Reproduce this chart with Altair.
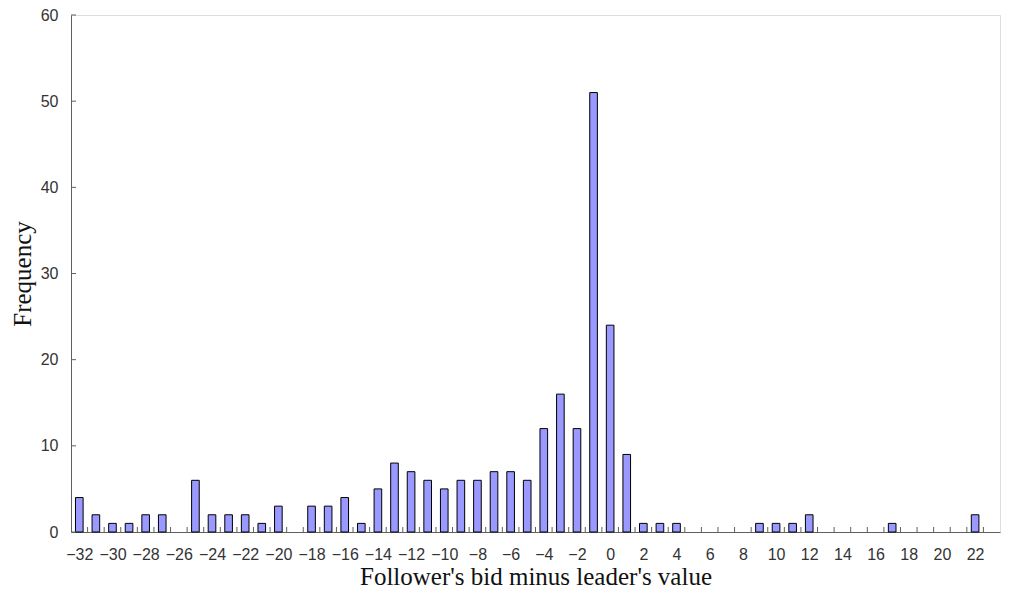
import altair as alt
import pandas as pd

# Data
diffs = list(range(-32, 23))
freqs = [4, 2, 1, 1, 2, 2, 0, 6, 2, 2, 2, 1, 3, 0, 3, 3, 4, 1,
         5, 8, 7, 6, 5, 6, 6, 7, 7, 6, 12, 16, 12, 51, 24, 9, 1, 1,
         1, 0, 0, 0, 0, 1, 1, 1, 2, 0, 0, 0, 0, 1, 0, 0, 0, 0, 2]
x_tick_labels = list(range(-32, 23, 2))
y_tick_values = [0, 10, 20, 30, 40, 50, 60]

df = pd.DataFrame({"diff": diffs, "freq": freqs})

W, H = 929, 517
xscale = alt.Scale(domain=[-32.5, 23.5], nice=False, zero=False)
yscale = alt.Scale(domain=[0, 60], nice=False)

label_font = "Liberation Sans"
title_font = "Liberation Serif"

xaxis = alt.Axis(values=x_tick_labels, format="d", ticks=False,
                 grid=False, labelFont=label_font, labelFontSize=16,
                 labelColor="#333333", labelPadding=14,
                 labelOverlap=False,
                 domainColor="#606060", labelFlush=False,
                 title="Follower's bid minus leader's value",
                 titleFont=title_font, titleFontSize=25,
                 titleFontWeight="normal", titleColor="#111111",
                 titleBaseline="alphabetic", titleY=52)
yaxis = alt.Axis(values=y_tick_values, ticks=False, grid=False,
                 labelFont=label_font, labelFontSize=16,
                 labelColor="#333333", labelPadding=13,
                 labelOverlap=False,
                 domainColor="#606060",
                 title="Frequency", titleFont=title_font,
                 titleFontSize=25, titleFontWeight="normal",
                 titleColor="#111111", titleX=-41, titleY=H / 2,
                 titleAngle=270, titleAlign="center",
                 titleBaseline="alphabetic")

bars = alt.Chart(df).transform_filter(
    "datum.freq > 0"
).transform_calculate(
    x1="datum.diff - 0.23", x2="datum.diff + 0.23", base="0"
).mark_bar(fill="#9999ff", stroke="#000000", strokeWidth=1).encode(
    x=alt.X("x1:Q", scale=xscale, axis=xaxis),
    x2="x2:Q",
    y=alt.Y("freq:Q", scale=yscale, axis=yaxis),
    y2="base:Q",
)

xticks = alt.Chart(alt.sequence(-32, 23, 1, as_="k")).transform_calculate(
    b="datum.k + 0.5"
).mark_rule(color="#606060", strokeWidth=1).encode(
    x=alt.X("b:Q", scale=xscale, axis=xaxis),
    y=alt.value(H),
    y2=alt.value(H - 5),
)

yticks = alt.Chart(alt.sequence(0, 70, 10, as_="v")).mark_rule(
    color="#606060", strokeWidth=1
).encode(
    y=alt.Y("v:Q", scale=yscale, axis=yaxis),
    x=alt.value(0),
    x2=alt.value(5),
)

chart = alt.layer(bars, xticks, yticks).properties(
    width=W, height=H,
    autosize=alt.AutoSizeParams(type="none"),
    padding={"left": 63, "top": 7, "right": 1, "bottom": 58},
).configure_view(
    stroke="#a0a0a0", strokeWidth=1
).configure_axis(labelOverlap=False).configure(background="white")

chart.save("out.html", embed_options={"renderer": "svg", "actions": False})
